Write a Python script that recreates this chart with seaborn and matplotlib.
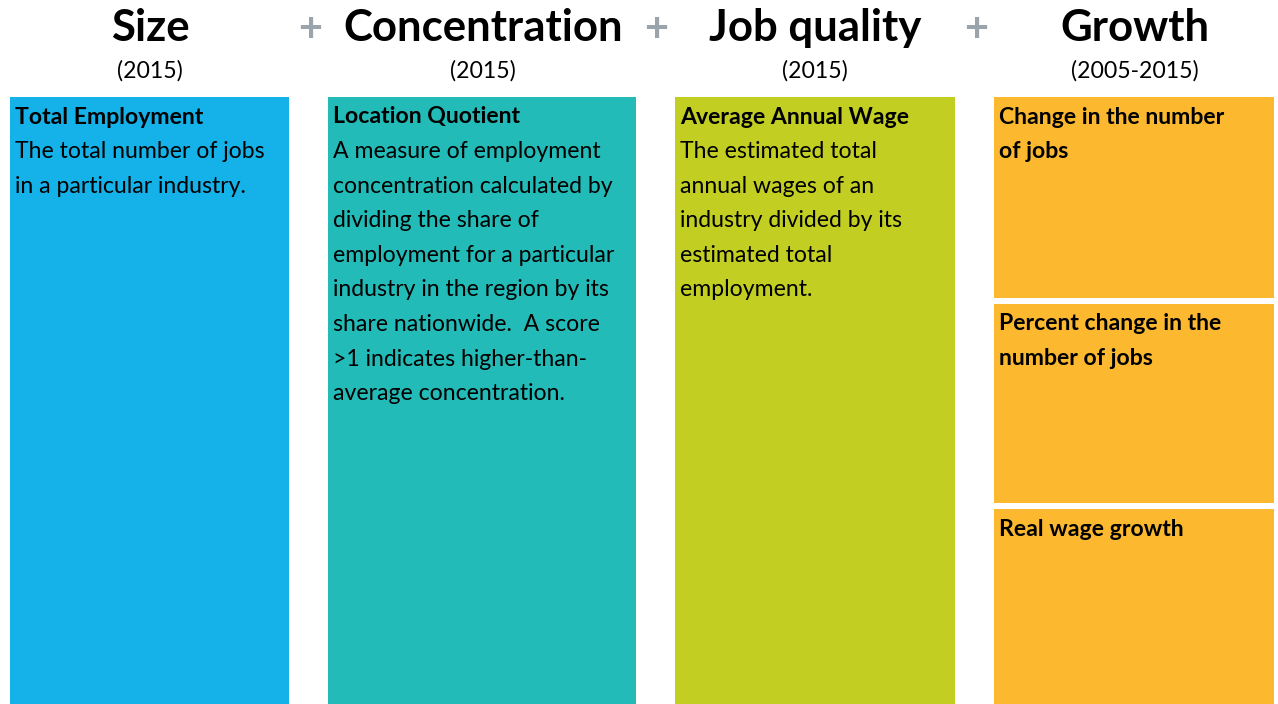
import matplotlib.pyplot as plt
import seaborn as sns

# header content
headers = ["Size", "Concentration", "Job quality", "Growth"]
periods = ["(2015)", "(2015)", "(2015)", "(2005-2015)"]

# box content (growth column has three stacked boxes)
box_titles = [
    "Total Employment",
    "Location Quotient",
    "Average Annual Wage",
    "Change in the number\nof jobs",
    "Percent change in the\nnumber of jobs",
    "Real wage growth",
]
box_texts = [
    "The total number of jobs\nin a particular industry.",
    "A measure of employment\nconcentration calculated by\ndividing the share of\n"
    "employment for a particular\nindustry in the region by its\n"
    "share nationwide.  A score\n>1 indicates higher-than-\naverage concentration.",
    "The estimated total\nannual wages of an\nindustry divided by its\n"
    "estimated total\nemployment.",
    "",
    "",
    "",
]
box_column = [0, 1, 2, 3, 3, 3]
column_colors = ["#14B2E8", "#23BBB7", "#C2CF22", "#FCB92F"]

# layout in pixel units
col_left = [10, 328, 675, 994]
col_width = [279, 308, 280, 280]
box_top = [97, 97, 97, 97, 304, 509]
box_bottom = [704, 704, 704, 298, 503, 704]
header_x = [150, 483, 815, 1135]
plus_x = [310, 656, 976]

W, H = 1278, 704
sns.set_theme(style="white")
plt.rcParams["font.family"] = ["Lato", "DejaVu Sans"]

fig = plt.figure(figsize=(W / 100, H / 100), dpi=100)
ax = fig.add_axes([0, 0, 1, 1])
ax.set_xlim(0, W)
ax.set_ylim(H, 0)
ax.axis("off")

for i, title in enumerate(box_titles):
    c = box_column[i]
    ax.bar(col_left[c], box_bottom[i] - box_top[i], width=col_width[c],
           bottom=box_top[i], align="edge", color=column_colors[c], linewidth=0)
    y = box_top[i] + 20
    for ln in title.split("\n"):
        ax.text(col_left[c] + 5, y, ln, fontsize=16.6, fontweight="bold",
                color="black", va="center", ha="left")
        y += 34.6
    if box_texts[i]:
        for ln in box_texts[i].split("\n"):
            ax.text(col_left[c] + 5, y, ln, fontsize=16.6, color="black",
                    va="center", ha="left")
            y += 34.6

for x, h, p in zip(header_x, headers, periods):
    ax.text(x, 28, h, fontsize=31.5, fontweight="bold", ha="center",
            va="center", color="black")
    ax.text(x, 71, p, fontsize=16.6, ha="center", va="center", color="black")

for x in plus_x:
    ax.text(x, 30, "+", fontsize=30, fontweight="bold", ha="center",
            va="center", color="#9BA4AB")

fig.savefig("out.png", dpi=100)
plt.close(fig)
